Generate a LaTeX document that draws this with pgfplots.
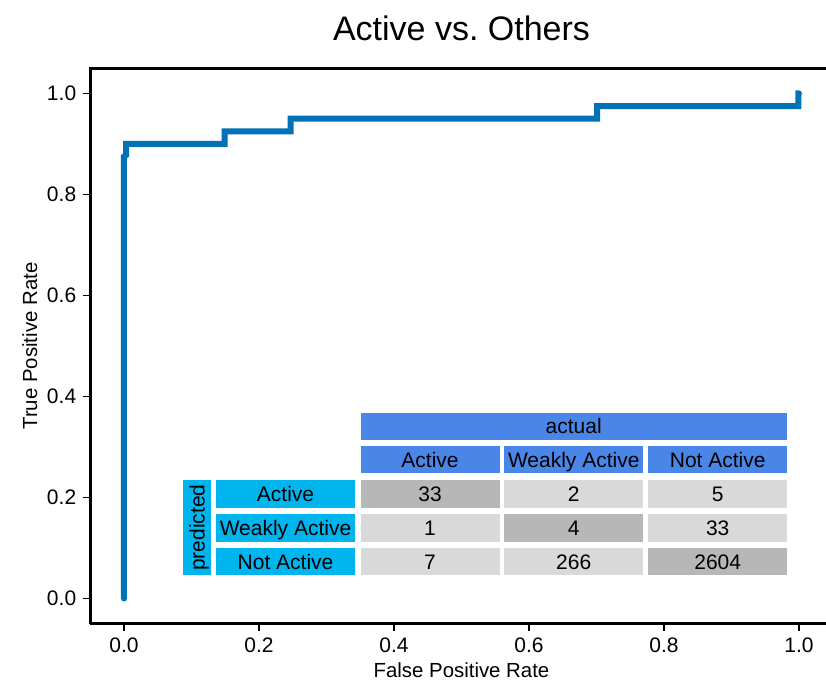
\documentclass[border=0pt]{standalone}
\usepackage{fontspec}
\setmainfont{Liberation Sans}
\usepackage{pgfplots}
\pgfplotsset{compat=1.18}
\definecolor{roc}{HTML}{0072B5}
\definecolor{hdrblue}{HTML}{4A86E8}
\definecolor{rowcyan}{HTML}{00B4EE}
\definecolor{diag}{HTML}{B7B7B7}
\definecolor{offd}{HTML}{D9D9D9}
\newcommand{\tf}{\fontsize{10.5}{12}\selectfont}
\tikzset{cell/.style={font=\tf, text height=7.6pt, text depth=0pt, inner sep=0pt}}
\begin{document}
\begin{tikzpicture}
\begin{axis}[
  name=ax,
  scale only axis,
  width=371.25pt, height=277.75pt,
  xmin=-0.05, xmax=1.05, ymin=-0.05, ymax=1.05,
  axis x line*=bottom, axis y line*=left,
  xtick={0,0.2,0.4,0.6,0.8,1.0},
  ytick={0,0.2,0.4,0.6,0.8,1.0},
  xticklabel style={/pgf/number format/fixed,/pgf/number format/fixed zerofill,/pgf/number format/precision=1},
  yticklabel style={/pgf/number format/fixed,/pgf/number format/fixed zerofill,/pgf/number format/precision=1},
  /pgf/number format/assume math mode=true,
  tick label style={font=\tf},
  tick align=outside,
  major tick length=3.5pt,
  tick style={black, line width=0.8pt},
  axis line style={black, line width=1.3pt},
  xtick pos=bottom, ytick pos=left,
  xlabel={False Positive Rate},
  ylabel={True Positive Rate},
  label style={font=\fontsize{10.2}{12}\selectfont},
  xlabel style={yshift=2pt},
  ylabel style={yshift=-2pt},
  title={Active vs.\ Others},
  title style={font=\fontsize{17}{20}\selectfont, yshift=4pt},
  clip=false,
]
\addplot[roc, line width=3pt, line join=miter, line cap=round] coordinates {
(0,0) (0,0.875) (0.003,0.878) (0.003,0.9) (0.149,0.9) (0.149,0.925)
(0.247,0.925) (0.247,0.95) (0.701,0.95) (0.701,0.975) (0.999,0.975) (0.999,1.0) (1.0,1.0)
};
% confusion matrix table
\fill[hdrblue] (axis cs:0.3504,0.3139) rectangle (axis cs:0.9822,0.3679);
\node[cell] at (axis cs:0.6663,0.3409) {actual};
\fill[hdrblue] (axis cs:0.3504,0.2479) rectangle (axis cs:0.5563,0.3020);
\node[cell] at (axis cs:0.4534,0.2750) {Active};
\fill[hdrblue] (axis cs:0.5637,0.2479) rectangle (axis cs:0.7689,0.3020);
\node[cell] at (axis cs:0.6663,0.2750) {Weakly Active};
\fill[hdrblue] (axis cs:0.7770,0.2479) rectangle (axis cs:0.9822,0.3020);
\node[cell] at (axis cs:0.8796,0.2750) {Not Active};
\fill[rowcyan] (axis cs:0.0874,0.0459) rectangle (axis cs:0.1289,0.2347);
\node[cell, rotate=90] at (axis cs:0.1082,0.1403) {predicted};
% rows
\fill[rowcyan] (axis cs:0.1363,0.1798) rectangle (axis cs:0.3422,0.2347);
\node[cell] at (axis cs:0.2393,0.2073) {Active};
\fill[rowcyan] (axis cs:0.1363,0.1125) rectangle (axis cs:0.3422,0.1673);
\node[cell] at (axis cs:0.2393,0.1399) {Weakly Active};
\fill[rowcyan] (axis cs:0.1363,0.0459) rectangle (axis cs:0.3422,0.1006);
\node[cell] at (axis cs:0.2393,0.0733) {Not Active};
% cells row 1
\fill[diag] (axis cs:0.3504,0.1798) rectangle (axis cs:0.5563,0.2347);
\node[cell] at (axis cs:0.4534,0.2073) {33};
\fill[offd] (axis cs:0.5637,0.1798) rectangle (axis cs:0.7689,0.2347);
\node[cell] at (axis cs:0.6663,0.2073) {2};
\fill[offd] (axis cs:0.7770,0.1798) rectangle (axis cs:0.9822,0.2347);
\node[cell] at (axis cs:0.8796,0.2073) {5};
% row 2
\fill[offd] (axis cs:0.3504,0.1125) rectangle (axis cs:0.5563,0.1673);
\node[cell] at (axis cs:0.4534,0.1399) {1};
\fill[diag] (axis cs:0.5637,0.1125) rectangle (axis cs:0.7689,0.1673);
\node[cell] at (axis cs:0.6663,0.1399) {4};
\fill[offd] (axis cs:0.7770,0.1125) rectangle (axis cs:0.9822,0.1673);
\node[cell] at (axis cs:0.8796,0.1399) {33};
% row 3
\fill[offd] (axis cs:0.3504,0.0459) rectangle (axis cs:0.5563,0.1006);
\node[cell] at (axis cs:0.4534,0.0733) {7};
\fill[offd] (axis cs:0.5637,0.0459) rectangle (axis cs:0.7689,0.1006);
\node[cell] at (axis cs:0.6663,0.0733) {266};
\fill[diag] (axis cs:0.7770,0.0459) rectangle (axis cs:0.9822,0.1006);
\node[cell] at (axis cs:0.8796,0.0733) {2604};
\end{axis}
\draw[black, line width=1.3pt, line cap=rect] (ax.north west) -- ([xshift=-4pt]ax.north east);
\pgfresetboundingbox
\path[use as bounding box] ([shift={(-45.125pt,-31.125pt)}]ax.south west) rectangle ([shift={(367.875pt,34.125pt)}]ax.north west);
\end{tikzpicture}
\end{document}
